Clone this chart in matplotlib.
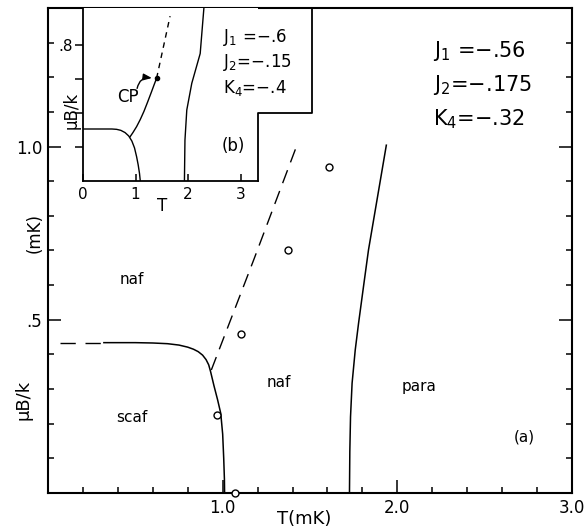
import numpy as np
import matplotlib
matplotlib.use("Agg")
import matplotlib.pyplot as plt
from matplotlib.ticker import FixedLocator, MultipleLocator, FixedFormatter

# ---- main panel (a): phase boundaries, T in mK vs muB/k in mK ----
scaf_T = [0.32, 0.50, 0.60, 0.684, 0.75, 0.80, 0.833, 0.86, 0.885, 0.905, 0.92,
          0.931, 0.95, 0.971, 0.989, 1.0, 1.006, 1.01, 1.011]
scaf_mu = [0.434, 0.434, 0.433, 0.431, 0.427, 0.421, 0.415, 0.408, 0.398, 0.385, 0.37,
           0.35, 0.31, 0.269, 0.23, 0.17, 0.10, 0.04, 0.0]
scaf_dash_T = [0.07, 0.31]
scaf_dash_mu = [0.434, 0.434]
naf_dash_T = [0.935, 1.18, 1.42]
naf_dash_mu = [0.355, 0.676, 0.997]
para_T = [1.726, 1.728, 1.732, 1.741, 1.759, 1.778, 1.809, 1.835, 1.937]
para_mu = [0.0, 0.12, 0.22, 0.317, 0.413, 0.49, 0.606, 0.702, 1.004]
circ_T = [1.071, 0.966, 1.103, 1.372, 1.611]
circ_mu = [0.0, 0.224, 0.460, 0.702, 0.941]

# ---- inset (b) ----
b_scaf_T = [0.0, 0.55, 0.64, 0.72, 0.80, 0.87, 0.93, 0.98, 1.02, 1.05, 1.075, 1.09]
b_scaf_mu = [0.306, 0.306, 0.304, 0.298, 0.285, 0.265, 0.235, 0.195, 0.143, 0.095, 0.045, 0.0]
b_cp_T = [0.895, 0.95, 1.02, 1.09, 1.16, 1.23, 1.30, 1.36, 1.40]
b_cp_mu = [0.26, 0.285, 0.32, 0.362, 0.41, 0.465, 0.522, 0.572, 0.604]
b_dash_T = [1.40, 1.657]
b_dash_mu = [0.604, 0.97]
b_para_T = [1.93, 1.935, 1.94, 1.975, 2.07, 2.23, 2.30]
b_para_mu = [0.0, 0.12, 0.24, 0.418, 0.575, 0.75, 1.016]

W, H = 585, 529


def fx(x):
    return x / W


def fy(y):
    return 1 - y / H


fig = plt.figure(figsize=(W / 100, H / 100), dpi=100)
ax = fig.add_axes([fx(48), fy(493), fx(572) - fx(48), fy(8) - fy(493)])

lw = 1.1
ax.plot(scaf_T, scaf_mu, color="black", lw=lw)
ax.plot(scaf_dash_T, scaf_dash_mu, color="black", lw=1.0, dashes=(11, 7))
ax.plot(naf_dash_T, naf_dash_mu, color="black", lw=1.0, dashes=(10, 6))
ax.plot(para_T, para_mu, color="black", lw=lw)
ax.plot(circ_T, circ_mu, "o", ms=5, mfc="white", mec="black", mew=1.0,
        clip_on=False, zorder=5)

ax.set_xlim(0, 3.0)
ax.set_ylim(0, 1.40)
for s in ax.spines.values():
    s.set_linewidth(1.5)

ax.xaxis.set_major_locator(FixedLocator([1.0, 2.0, 3.0]))
ax.xaxis.set_major_formatter(FixedFormatter(["1.0", "2.0", "3.0"]))
ax.xaxis.set_minor_locator(MultipleLocator(0.2))
ax.yaxis.set_major_locator(FixedLocator([0.5, 1.0]))
ax.yaxis.set_major_formatter(FixedFormatter([".5", "1.0"]))
ax.yaxis.set_minor_locator(MultipleLocator(0.1))
ax.tick_params(which="both", direction="in", top=False, right=True,
               labelsize=12, width=1.1)
ax.tick_params(which="major", length=9.5, pad=4)
ax.tick_params(which="minor", length=4.5)

fig.text(fx(304), fy(519), "T(mK)", ha="center", va="center", fontsize=13)
fig.text(fx(24), fy(400), "μB/k", ha="center", va="center", rotation=90, fontsize=13)
fig.text(fx(35), fy(233), "(mK)", ha="center", va="center", rotation=90, fontsize=12)

ax.text(0.482, 0.616, "naf", ha="center", va="center", fontsize=11)
ax.text(0.482, 0.217, "scaf", ha="center", va="center", fontsize=11)
ax.text(1.32, 0.318, "naf", ha="center", va="center", fontsize=11)
ax.text(2.123, 0.306, "para", ha="center", va="center", fontsize=11)
ax.text(2.725, 0.162, "(a)", ha="center", va="center", fontsize=11)

ax.text(2.205, 1.277, "J$_1$ =−.56", ha="left", va="center", fontsize=15)
ax.text(2.205, 1.179, "J$_2$=−.175", ha="left", va="center", fontsize=15)
ax.text(2.205, 1.078, "K$_4$=−.32", ha="left", va="center", fontsize=15)

# ---- inset ----
bx_max, by_max = 3.33, 1.018
step_T, step_mu = 4.36, 0.40
axb = fig.add_axes([fx(83), fy(181), fx(258) - fx(83), fy(8) - fy(181)])
axb.set_xlim(0, bx_max)
axb.set_ylim(0, by_max)
axb.spines["top"].set_visible(False)
axb.spines["right"].set_visible(False)
for k in ("left", "bottom"):
    axb.spines[k].set_linewidth(1.3)
axb.plot([bx_max, bx_max, step_T, step_T], [0, step_mu, step_mu, by_max],
         color="black", lw=1.3, clip_on=False)

axb.plot(b_scaf_T, b_scaf_mu, color="black", lw=1.0)
axb.plot(b_cp_T, b_cp_mu, color="black", lw=1.0)
axb.plot(b_dash_T, b_dash_mu, color="black", lw=1.0, dashes=(4, 3.5))
axb.plot(b_para_T, b_para_mu, color="black", lw=1.0)
axb.plot([b_cp_T[-1]], [b_cp_mu[-1]], "o", color="black", ms=3)

axb.xaxis.set_major_locator(FixedLocator([0, 1, 2, 3]))
axb.yaxis.set_major_locator(FixedLocator([0.2, 0.4, 0.6, 0.8]))
axb.yaxis.set_major_formatter(FixedFormatter(["", "", "", ".8"]))
axb.tick_params(axis="x", direction="in", length=5, width=1.1, labelsize=11, pad=4)
axb.tick_params(axis="y", direction="out", length=6, width=1.1, labelsize=11, pad=1)

axb.text((162 - 83) / 52.5, -0.15, "T", ha="center", va="center", fontsize=12)
fig.text(fx(72), fy(110), "μB/k", ha="center", va="center", rotation=90, fontsize=12)
axb.text(0.857, 0.494, "CP", ha="center", va="center", fontsize=12)
axb.annotate("", xy=(1.31, 0.606), xytext=(1.03, 0.545),
             arrowprops=dict(arrowstyle="-|>,head_length=0.5,head_width=0.2",
                             color="black", lw=1.0,
                             connectionstyle="arc3,rad=-0.45",
                             shrinkA=0, shrinkB=0))
axb.text(2.857, 0.206, "(b)", ha="center", va="center", fontsize=12)
axb.text(2.667, 0.847, "J$_1$ =−.6", ha="left", va="center", fontsize=12)
axb.text(2.667, 0.70, "J$_2$=−.15", ha="left", va="center", fontsize=12)
axb.text(2.667, 0.547, "K$_4$=−.4", ha="left", va="center", fontsize=12)

fig.savefig("out.png", dpi=100)
